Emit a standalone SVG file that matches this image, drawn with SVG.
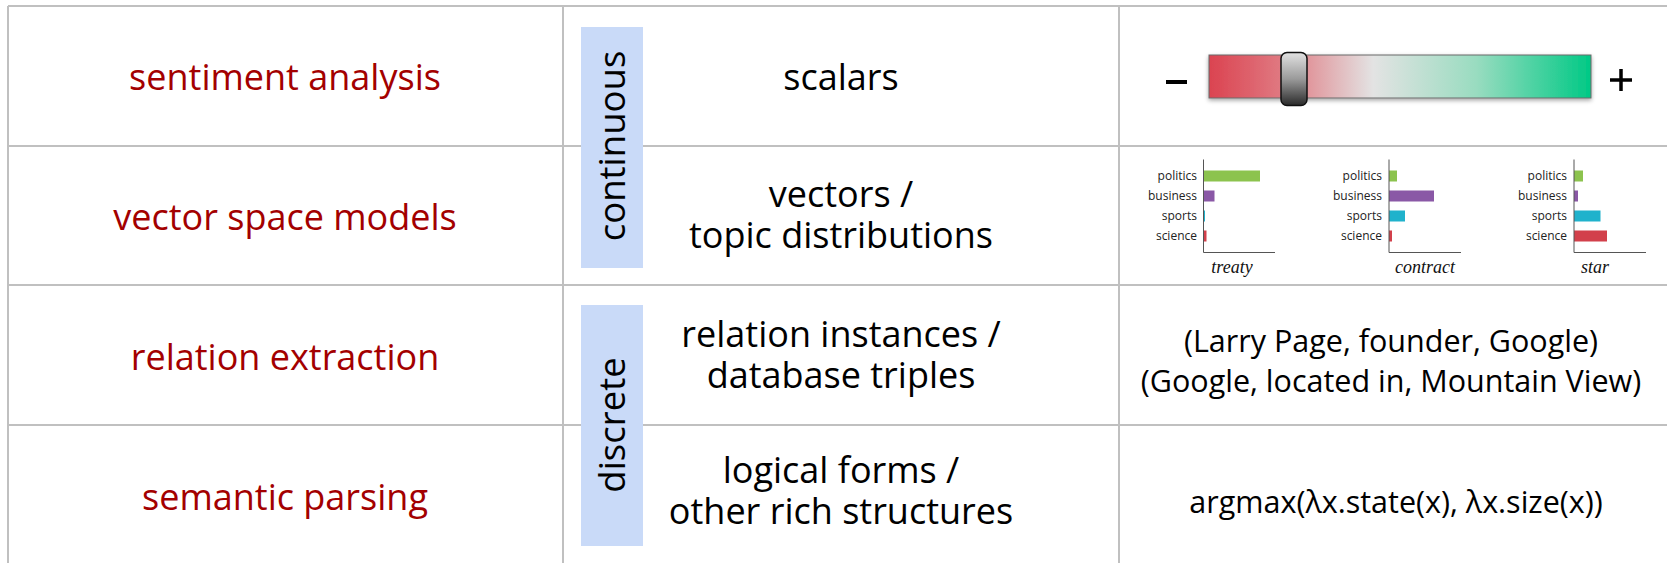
<svg xmlns="http://www.w3.org/2000/svg" width="1667" height="563" viewBox="0 0 1667 563">
<defs>
<style>
.grid{stroke:#c0c0c0;stroke-width:2;fill:none}
.task{font-family:"Open Sans","DejaVu Sans",sans-serif;font-size:36px;fill:#a30000;text-anchor:middle}
.rep{font-family:"Open Sans","DejaVu Sans",sans-serif;font-size:36px;fill:#000;text-anchor:middle}
.ex{font-family:"Open Sans","DejaVu Sans",sans-serif;font-size:30.5px;fill:#000;text-anchor:middle}
.band{fill:#c9daf8}
.bandtxt{font-family:"Open Sans","DejaVu Sans",sans-serif;font-size:36.5px;fill:#000;text-anchor:middle}
.lbl{font-family:"Open Sans","DejaVu Sans",sans-serif;font-size:12px;fill:#222;text-anchor:end}
.word{font-family:"Liberation Serif","Times New Roman",serif;font-style:italic;font-size:18px;fill:#111;text-anchor:middle}
.axis{stroke:#555;stroke-width:1;fill:none}
.pol{fill:#8cc34e}
.bus{fill:#8a58a6}
.spo{fill:#20b2cc}
.sci{fill:#d2404b}
</style>
<linearGradient id="bar" x1="0" y1="0" x2="1" y2="0">
<stop offset="0" stop-color="#db4350"/>
<stop offset="0.2" stop-color="#e07c84"/>
<stop offset="0.43" stop-color="#e3e3e3"/>
<stop offset="0.7" stop-color="#99dcc0"/>
<stop offset="1" stop-color="#00c985"/>
</linearGradient>
<linearGradient id="knob" x1="0" y1="0" x2="0" y2="1">
<stop offset="0" stop-color="#e2e2e2"/>
<stop offset="0.5" stop-color="#9a9a9a"/>
<stop offset="1" stop-color="#2a2a2a"/>
</linearGradient>
<filter id="sh" x="-10%" y="-30%" width="120%" height="160%">
<feDropShadow dx="0" dy="2" stdDeviation="2" flood-color="#000" flood-opacity="0.35"/>
</filter>
</defs>

<g id="grid">
<line class="grid" x1="8" y1="6" x2="1667" y2="6"/>
<line class="grid" x1="8" y1="146" x2="1667" y2="146"/>
<line class="grid" x1="8" y1="285" x2="1667" y2="285"/>
<line class="grid" x1="8" y1="425" x2="1667" y2="425"/>
<line class="grid" x1="8" y1="6" x2="8" y2="563"/>
<line class="grid" x1="563" y1="6" x2="563" y2="563"/>
<line class="grid" x1="1119" y1="6" x2="1119" y2="563"/>
</g>

<g id="tasks">
<text class="task" x="285" y="90">sentiment analysis</text>
<text class="task" x="285" y="230">vector space models</text>
<text class="task" x="285" y="370">relation extraction</text>
<text class="task" x="285" y="510">semantic parsing</text>
</g>

<g id="band-continuous">
<rect class="band" x="581" y="27" width="62" height="241"/>
<text class="bandtxt" transform="translate(625,146) rotate(-90)">continuous</text>
</g>
<g id="band-discrete">
<rect class="band" x="581" y="305" width="62" height="241"/>
<text class="bandtxt" transform="translate(625,425) rotate(-90)">discrete</text>
</g>

<g id="representations">
<text class="rep" x="841" y="90">scalars</text>
<text class="rep" x="841" y="207">vectors /</text>
<text class="rep" x="841" y="248">topic distributions</text>
<text class="rep" x="841" y="347">relation instances /</text>
<text class="rep" x="841" y="388">database triples</text>
<text class="rep" x="841" y="483">logical forms /</text>
<text class="rep" x="841" y="524">other rich structures</text>
</g>

<g id="slider">
<rect x="1166" y="80" width="21" height="4" fill="#000"/>
<rect x="1209" y="55" width="382" height="43" fill="url(#bar)" stroke="#6a6a6a" stroke-width="1" filter="url(#sh)"/>
<rect x="1281" y="52.5" width="26" height="53" rx="6" fill="url(#knob)" stroke="#111" stroke-width="1.5"/>
<path d="M1610 80 H1632 M1621 69 V91" stroke="#000" stroke-width="3.5" fill="none"/>
</g>

<g id="chart-treaty">
<rect class="pol" x="1203.5" y="170.5" width="56.5" height="11"/>
<rect class="bus" x="1203.5" y="190.5" width="11" height="11"/>
<rect class="spo" x="1203.5" y="210.5" width="1.5" height="11"/>
<rect class="sci" x="1203.5" y="230.5" width="3" height="11"/>
<path class="axis" d="M1203.5 159.5 V252.5 H1275"/>
<text class="lbl" x="1197" y="180">politics</text>
<text class="lbl" x="1197" y="200">business</text>
<text class="lbl" x="1197" y="220">sports</text>
<text class="lbl" x="1197" y="240">science</text>
<text class="word" x="1232" y="273">treaty</text>
</g>

<g id="chart-contract">
<rect class="pol" x="1389" y="170.5" width="8" height="11"/>
<rect class="bus" x="1389" y="190.5" width="45" height="11"/>
<rect class="spo" x="1389" y="210.5" width="16" height="11"/>
<rect class="sci" x="1389" y="230.5" width="3" height="11"/>
<path class="axis" d="M1389 159.5 V252.5 H1461"/>
<text class="lbl" x="1382" y="180">politics</text>
<text class="lbl" x="1382" y="200">business</text>
<text class="lbl" x="1382" y="220">sports</text>
<text class="lbl" x="1382" y="240">science</text>
<text class="word" x="1425" y="273">contract</text>
</g>

<g id="chart-star">
<rect class="pol" x="1574" y="170.5" width="9" height="11"/>
<rect class="bus" x="1574" y="190.5" width="4" height="11"/>
<rect class="spo" x="1574" y="210.5" width="26.5" height="11"/>
<rect class="sci" x="1574" y="230.5" width="33" height="11"/>
<path class="axis" d="M1574 159.5 V252.5 H1646"/>
<text class="lbl" x="1567" y="180">politics</text>
<text class="lbl" x="1567" y="200">business</text>
<text class="lbl" x="1567" y="220">sports</text>
<text class="lbl" x="1567" y="240">science</text>
<text class="word" x="1595" y="273">star</text>
</g>

<g id="examples">
<text class="ex" x="1391" y="352">(Larry Page, founder, Google)</text>
<text class="ex" x="1391" y="392">(Google, located in, Mountain View)</text>
<text class="ex" x="1396" y="513">argmax(λx.state(x), λx.size(x))</text>
</g>
</svg>
